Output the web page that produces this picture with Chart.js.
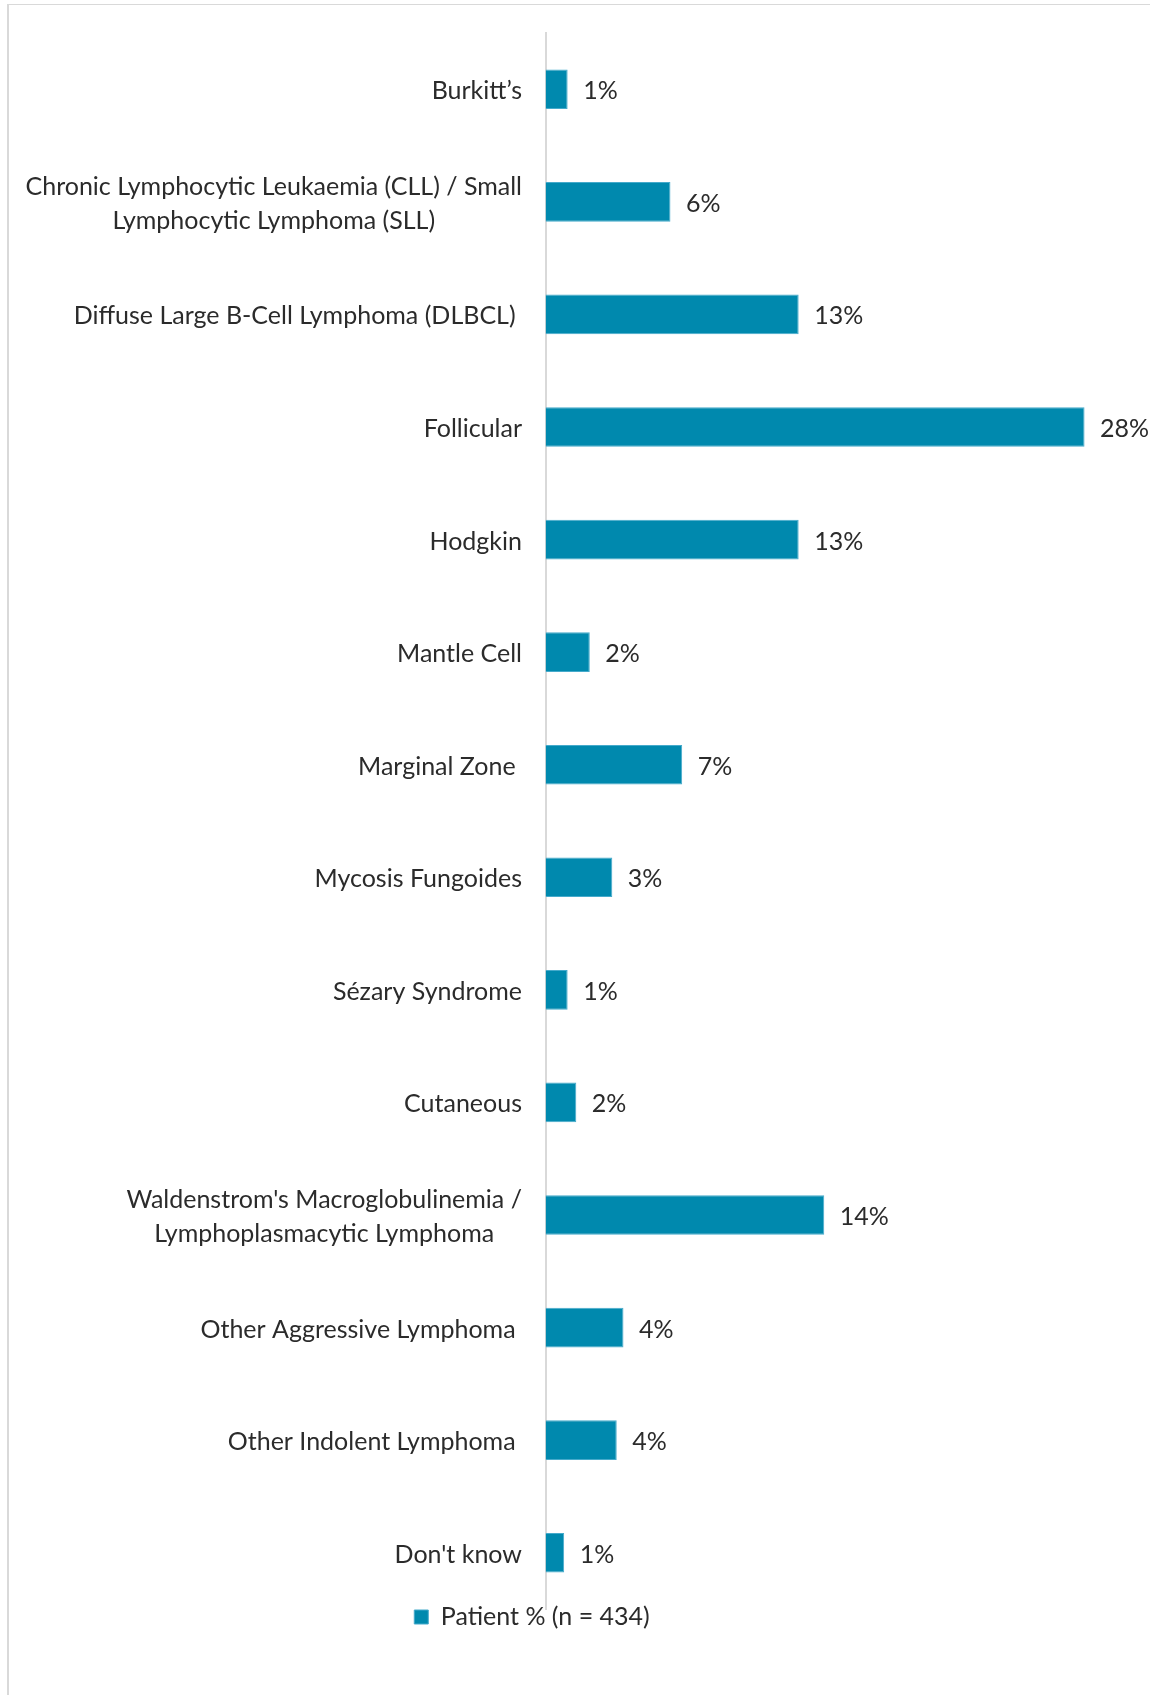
<!DOCTYPE html>
<html>
<head>
<meta charset="utf-8">
<script src="https://cdn.jsdelivr.net/npm/chart.js@4.4.1/dist/chart.umd.min.js"></script>
<style>
html,body{margin:0;padding:0;background:#fff;width:1150px;height:1695px;overflow:hidden}
#wrap{position:absolute;left:7px;top:4px;width:1143px;height:1691px;border-top:1px solid #d9d9d9;border-left:2px solid #d9d9d9;box-sizing:border-box;background:#fff}
canvas{display:block}
</style>
</head>
<body>
<div id="wrap"><canvas id="c" width="1141" height="1690" style="width:1141px;height:1690px"></canvas></div>
<script>
// ---- data ----
const categories = [
  "Burkitt’s",
  ["Chronic Lymphocytic Leukaemia (CLL) / Small", "Lymphocytic Lymphoma (SLL)"],
  "Diffuse Large B-Cell Lymphoma (DLBCL) ",
  "Follicular",
  "Hodgkin",
  "Mantle Cell",
  "Marginal Zone ",
  "Mycosis Fungoides",
  "Sézary Syndrome",
  "Cutaneous",
  ["Waldenstrom's Macroglobulinemia /", "Lymphoplasmacytic Lymphoma"],
  "Other Aggressive Lymphoma ",
  "Other Indolent Lymphoma ",
  "Don't know"
];
const patientPct = [1.15, 6.49, 13.15, 28.0, 13.15, 2.3, 7.1, 3.47, 1.15, 1.6, 14.48, 4.05, 3.7, 0.97];
const seriesLabel = "Patient % (n = 434)";
const axisMax = 31.4;

// ---- style ----
const FONT = "Lato";
const FS = 25;
const LH = 34;
const TEXT = "#2b2b2b";
const BAR = "#0089ae";
const BAR_EDGE = "#45aacb";
const TEXT_DY = 2;

const yLabelPlugin = {
  id: "yLabelPlugin",
  afterDraw(chart) {
    const ys = chart.scales.y, ctx = chart.ctx;
    ctx.save();
    ctx.font = FS + "px " + FONT;
    ctx.fillStyle = TEXT;
    ctx.textBaseline = "middle";
    ctx.textAlign = "center";
    const xR = chart.chartArea.left - 23.5;
    chart.data.labels.forEach((lab, i) => {
      const lines = Array.isArray(lab) ? lab : [lab];
      const w = Math.max(...lines.map(l => ctx.measureText(l).width));
      const cx = xR - w / 2;
      const y = ys.getPixelForValue(i) + TEXT_DY;
      lines.forEach((l, j) => ctx.fillText(l, cx, y + (j - (lines.length - 1) / 2) * LH));
    });
    ctx.restore();
  }
};

const valueLabelPlugin = {
  id: "valueLabelPlugin",
  afterDatasetsDraw(chart) {
    const ctx = chart.ctx;
    const meta = chart.getDatasetMeta(0);
    const vals = chart.data.datasets[0].data;
    ctx.save();
    ctx.font = FS + "px " + FONT;
    ctx.fillStyle = TEXT;
    ctx.textAlign = "left";
    ctx.textBaseline = "middle";
    meta.data.forEach((bar, i) => {
      ctx.fillText(Math.round(vals[i]) + "%", bar.x + 15.5, bar.y + TEXT_DY);
    });
    ctx.restore();
  }
};

const legendPlacePlugin = {
  id: "legendPlacePlugin",
  afterLayout(chart) {
    const lg = chart.legend;
    if (!lg || !lg.lineWidths) return;
    const pad = lg.options.labels.padding;
    const targetCY = 1612, targetCX = 523;
    const h = lg.height;
    lg.top = targetCY - pad - FS / 2;
    lg.bottom = lg.top + h;
    const lw = lg.lineWidths[0];
    const start = (lg.left + pad + lg.right - lw) / 2;
    const center = start + (lw - pad) / 2;
    const dx = targetCX - center;
    lg.left += dx;
    lg.right += dx;
  }
};

function draw() {
  new Chart(document.getElementById("c"), {
    type: "bar",
    data: {
      labels: categories,
      datasets: [{
        label: seriesLabel,
        data: patientPct,
        backgroundColor: BAR,
        borderColor: BAR_EDGE,
        borderWidth: 1,
        categoryPercentage: 0.352,
        barPercentage: 1
      }]
    },
    options: {
      indexAxis: "y",
      responsive: false,
      devicePixelRatio: 1,
      animation: false,
      layout: { padding: { top: 28, bottom: 41, left: 0, right: 0 } },
      scales: {
        x: { display: false, min: 0, max: axisMax },
        y: {
          display: true,
          grid: { display: false },
          border: { display: true, color: "#d9d9d9", width: 2 },
          ticks: { display: false },
          afterFit(scale) { scale.width = 536.5; }
        }
      },
      plugins: {
        legend: {
          display: true,
          position: "bottom",
          labels: {
            boxWidth: 14,
            boxHeight: 14,
            padding: 10,
            color: TEXT,
            font: { family: FONT, size: FS }
          }
        },
        tooltip: { enabled: false }
      }
    },
    plugins: [yLabelPlugin, valueLabelPlugin, legendPlacePlugin]
  });
}
if (document.fonts && document.fonts.load) {
  document.fonts.load(FS + "px " + FONT).then(draw, draw);
} else { draw(); }
</script>
</body>
</html>
